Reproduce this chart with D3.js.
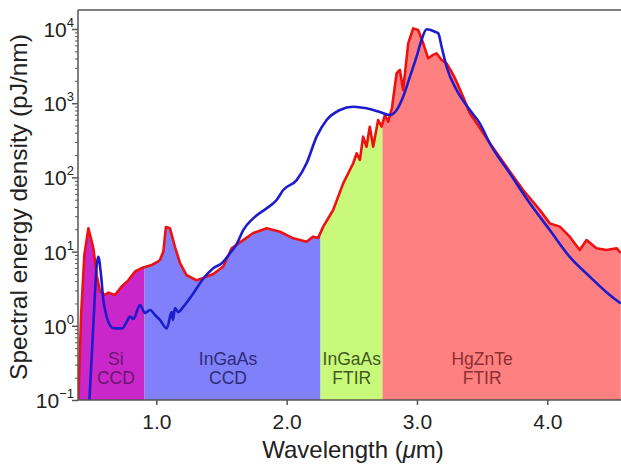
<!DOCTYPE html>
<html><head><meta charset="utf-8">
<script src="https://cdn.jsdelivr.net/npm/d3@7"></script>
<style>
html,body{margin:0;padding:0;background:#fff;}
svg{display:block;font-family:"Liberation Sans",Arial,Helvetica,sans-serif;}
</style></head>
<body><svg id="chart" width="621" height="464"></svg>
<script>
// ---- data ----
const redLambda = [0.402,0.407,0.423,0.448,0.479,0.517,0.543,0.568,0.607,0.632,0.683,0.735,0.785,0.837,0.888,0.965,1.005,1.028,1.054,1.074,1.105,1.143,1.182,1.233,1.310,1.360,1.437,1.514,1.578,1.667,1.744,1.847,1.949,2.051,2.153,2.204,2.242,2.281,2.357,2.434,2.511,2.537,2.562,2.587,2.613,2.638,2.664,2.702,2.729,2.754,2.779,2.808,2.844,2.869,2.894,2.933,2.971,3.009,3.048,3.086,3.124,3.150,3.189,3.227,3.265,3.304,3.354,3.406,3.480,3.559,3.687,3.814,3.943,4.019,4.096,4.172,4.249,4.301,4.377,4.454,4.531,4.564];
const redValue  = [0.1,0.18,1.4,9.0,20.6,11.2,4.8,2.9,2.6,2.8,2.6,3.4,4.1,5.4,6.0,6.6,7.2,7.7,10,21.5,20.6,11.6,7.0,4.8,4.1,4.4,5.0,6.3,11.1,14.3,17.8,20.6,18.5,15.1,13.6,15.9,15.3,21.7,36.4,83,155,211,172,354,259,482,259,594,482,693,563,861,2530,2800,1507,6410,10200,9700,6410,4030,4470,4700,3820,3450,2660,1950,1224,731,470,288,139,67.6,36.4,24,21.7,15.9,10.5,14.3,11.1,10.5,11.1,9.6];

const blueLambda = [0.487,0.519,0.543,0.555,0.576,0.594,0.607,0.632,0.670,0.735,0.773,0.798,0.824,0.875,0.913,0.952,0.990,1.028,1.080,1.118,1.128,1.143,1.169,1.207,1.284,1.360,1.437,1.502,1.565,1.617,1.667,1.744,1.847,1.923,1.974,2.077,2.153,2.230,2.307,2.409,2.511,2.613,2.715,2.792,2.844,2.894,2.946,2.997,3.035,3.074,3.137,3.163,3.189,3.227,3.304,3.406,3.482,3.559,3.712,3.866,4.019,4.172,4.326,4.479,4.564];
const blueValue  = [0.1,1.2,6.6,8.5,4.8,2.2,1.63,1.13,0.93,0.92,1.13,1.33,1.24,1.9,1.49,1.63,1.4,1.2,0.92,1.53,1.2,1.74,1.53,1.8,2.74,4.3,5.96,6.95,9.5,12.6,19.5,28.1,38.4,49.6,67.6,92,155,354,594,810,897,853,761,693,810,1224,2277,4233,7110,9900,9200,8750,5770,3100,1507,810,536,288,113.5,44.8,19.5,8.5,4.6,2.6,2.0];

const regionNames = [["Si","CCD"],["InGaAs","CCD"],["InGaAs","FTIR"],["HgZnTe","FTIR"]];
const regionStart = [0.4, 0.91, 2.26, 2.735];
const regionEnd   = [0.91, 2.26, 2.735, 4.6];
const regionLabelAt = [0.69, 1.55, 2.5, 3.5];
const regionFill  = ["#c927c9","#8080fa","#c9f97a","#ff8080"];
const regionText  = ["#6a1670","#2c2c78","#3f5a1c","#8c3030"];

const xTicks = [1.0, 2.0, 3.0, 4.0];
const yExponents = [-1, 0, 1, 2, 3, 4];

// ---- layout ----
const svg = d3.select("#chart");
const pL = 78, pR = 621, pT = 10, pB = 400;
const x = d3.scaleLinear().domain([1, 4]).range([156.3, 547.3]);
const y = d3.scaleLog().domain([0.1, 1e4]).range([400, 29]);

const font = '"Liberation Sans",Arial,Helvetica,sans-serif';
const defs = svg.append("defs");
defs.append("clipPath").attr("id","plotclip").append("rect")
  .attr("x", pL).attr("y", pT).attr("width", pR-pL).attr("height", pB-pT);

regionStart.forEach((s,i)=>{
  defs.append("clipPath").attr("id","reg"+i).append("rect")
    .attr("x", x(s)).attr("y", pT)
    .attr("width", x(regionEnd[i]) - x(s)).attr("height", pB-pT);
});

const red = redLambda.map((l,i)=>[l, redValue[i]]);
const blue = blueLambda.map((l,i)=>[l, blueValue[i]]);

const area = d3.area().x(d=>x(d[0])).y0(pB).y1(d=>y(Math.max(d[1],0.1)));
const g = svg.append("g").attr("clip-path","url(#plotclip)");

regionStart.forEach((s,i)=>{
  g.append("path").datum(red).attr("d", area)
    .attr("fill", regionFill[i]).attr("clip-path","url(#reg"+i+")");
});

// region labels
regionNames.forEach((lines,i)=>{
  const t = svg.append("text").attr("text-anchor","middle")
    .attr("font-size", 17.5).attr("fill", regionText[i]).attr("font-family", font);
  t.append("tspan").attr("x", x(regionLabelAt[i])).attr("y", 364.5).text(lines[0]);
  t.append("tspan").attr("x", x(regionLabelAt[i])).attr("y", 383.5).text(lines[1]);
});

g.append("path").datum(red).attr("d", d3.line().x(d=>x(d[0])).y(d=>y(d[1])).curve(d3.curveLinear))
  .attr("fill","none").attr("stroke","#ee1111").attr("stroke-width",2.6).attr("stroke-linejoin","round");
g.append("path").datum(blue).attr("d", d3.line().x(d=>x(d[0])).y(d=>y(d[1])).curve(d3.curveMonotoneX))
  .attr("fill","none").attr("stroke","#1c1ccc").attr("stroke-width",2.6).attr("stroke-linejoin","round");

// axes
const axisColor = "#555";
const xa = svg.append("g").attr("transform",`translate(0,${pB})`)
  .call(d3.axisBottom(x).tickValues(xTicks).tickFormat(d3.format(".1f")).tickSize(5).tickSizeOuter(0));
xa.select(".domain").remove();
xa.selectAll(".tick line").attr("stroke",axisColor).attr("stroke-width",1.5);
xa.selectAll(".tick text").attr("font-size",21).attr("font-family",font).attr("fill","#222").attr("dy",null).attr("y",29);

const minor = [];
yExponents.forEach(e=>{ if (e<4) for (let k=2;k<=9;k++) minor.push(k*Math.pow(10,e)); });
const ya = svg.append("g").attr("transform",`translate(${pL},0)`)
  .call(d3.axisLeft(y).tickValues(minor).tickSize(3).tickFormat(""));
ya.select(".domain").remove();
ya.selectAll(".tick line").attr("stroke",axisColor).attr("stroke-width",1);
const yb = svg.append("g").attr("transform",`translate(${pL},0)`)
  .call(d3.axisLeft(y).tickValues(yExponents.map(e=>Math.pow(10,e))).tickSize(6).tickFormat(""));
yb.select(".domain").remove();
yb.selectAll(".tick line").attr("stroke",axisColor).attr("stroke-width",1.5);

yExponents.forEach(e=>{
  const t = svg.append("text").attr("x", 74).attr("y", y(Math.pow(10,e)) + 8)
    .attr("text-anchor","end").attr("font-family",font).attr("fill","#222").attr("font-size",21);
  t.append("tspan").text("10");
  t.append("tspan").attr("font-size",13).attr("dy",-10).text(String(e).replace("-","\u2212"));
});

svg.append("line").attr("x1",pL).attr("x2",pL).attr("y1",pT).attr("y2",pB)
  .attr("stroke",axisColor).attr("stroke-width",1.5);
svg.append("line").attr("x1",pL).attr("x2",pR).attr("y1",pB).attr("y2",pB)
  .attr("stroke",axisColor).attr("stroke-width",1.5);
svg.append("line").attr("x1",pL).attr("x2",pR).attr("y1",pT).attr("y2",pT)
  .attr("stroke",axisColor).attr("stroke-width",1.5);

const xt = svg.append("text").attr("x",353).attr("y",458).attr("text-anchor","middle")
  .attr("font-family",font).attr("font-size",24).attr("fill","#222");
xt.append("tspan").text("Wavelength (");
xt.append("tspan").attr("font-style","italic").text("\u03bc");
xt.append("tspan").text("m)");

svg.append("text").attr("transform","translate(27,207) rotate(-90)").attr("text-anchor","middle")
  .attr("font-family",font).attr("font-size",24.5).attr("fill","#222")
  .text("Spectral energy density (pJ/nm)");
</script></body></html>
